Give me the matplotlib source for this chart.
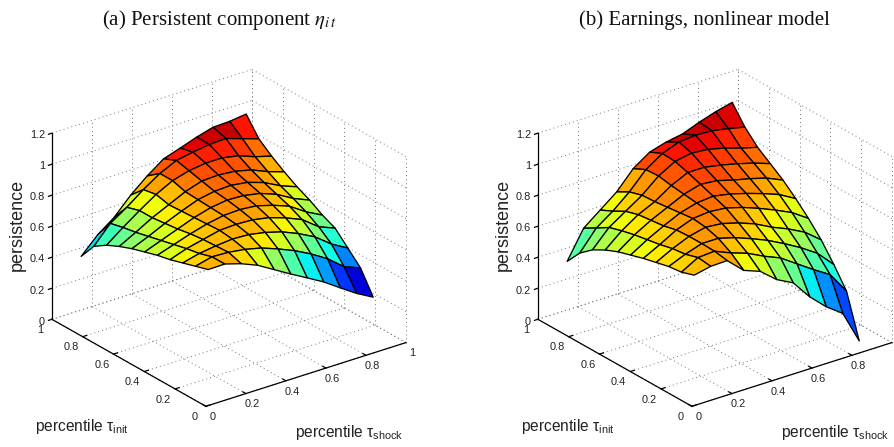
import numpy as np
import matplotlib
matplotlib.use("Agg")
import matplotlib.pyplot as plt
from mpl_toolkits.mplot3d import proj3d

plt.rcParams['font.family'] = ['Liberation Sans', 'DejaVu Sans']
plt.rcParams['mathtext.fontset'] = 'custom'
plt.rcParams['mathtext.rm'] = 'Liberation Sans'
plt.rcParams['mathtext.it'] = 'Liberation Sans'

W, H = 894, 447

tau_shock = [0.05, 0.1325, 0.215, 0.2975, 0.38, 0.4625, 0.545, 0.6275, 0.71, 0.7925, 0.875]
tau_init = [0.05, 0.1325, 0.215, 0.2975, 0.38, 0.4625, 0.545, 0.6275, 0.71, 0.7925, 0.875]

# rows: tau_init, columns: tau_shock
persistence_eta = [
    [.833, .835, .803, .759, .697, .635, .576, .516, .444, .374, .316],
    [.808, .835, .830, .815, .790, .750, .705, .650, .585, .500, .458],
    [.783, .810, .825, .835, .830, .810, .780, .735, .680, .600, .540],
    [.758, .795, .820, .845, .850, .845, .825, .790, .745, .665, .622],
    [.740, .775, .810, .840, .860, .865, .855, .825, .785, .715, .660],
    [.715, .755, .795, .835, .865, .880, .875, .855, .815, .755, .710],
    [.690, .735, .785, .830, .870, .890, .895, .880, .845, .790, .750],
    [.658, .715, .775, .825, .875, .910, .915, .905, .880, .835, .800],
    [.620, .700, .775, .845, .900, .930, .945, .945, .925, .885, .855],
    [.566, .680, .750, .830, .900, .950, .970, .985, .990, .955, .920],
    [.455, .560, .639, .748, .838, .915, .950, .987, 1.017, 1.021, 1.034],
]

persistence_earn = [
    [.797, .820, .823, .726, .686, .599, .544, .420, .322, .246, .034],
    [.770, .830, .837, .792, .756, .703, .658, .586, .515, .449, .308],
    [.760, .805, .840, .840, .810, .770, .725, .670, .610, .540, .434],
    [.740, .795, .840, .865, .855, .825, .785, .730, .685, .630, .547],
    [.720, .775, .835, .875, .885, .875, .845, .805, .760, .710, .639],
    [.695, .760, .815, .865, .895, .905, .885, .855, .820, .780, .720],
    [.670, .745, .805, .855, .905, .935, .925, .895, .870, .840, .793],
    [.635, .725, .795, .845, .915, .965, .965, .945, .920, .890, .853],
    [.590, .700, .770, .840, .930, .990, 1.010, 1.000, .975, .940, .912],
    [.523, .650, .725, .815, .925, .995, 1.035, 1.045, 1.040, 1.020, .996],
    [.423, .603, .686, .769, .885, .958, .989, 1.008, 1.049, 1.083, 1.109],
]

xy_ticks = [0, 0.2, 0.4, 0.6, 0.8, 1]
z_ticks = [0, 0.2, 0.4, 0.6, 0.8, 1, 1.2]

titles = ['(a) Persistent component $\\eta_{i\\,t}$', '(b) Earnings, nonlinear model']
z_label = 'persistence'
init_label = 'percentile $\\tau_{\\mathrm{init}}$'
shock_label = 'percentile $\\tau_{\\mathrm{shock}}$'


def fmt(v):
    return f'{v:g}'


def label3d(ax, x, y, z, s, **kw):
    """Place a label at a 3D data point, skipping ones beyond the canvas."""
    px, py, _ = proj3d.proj_transform(x, y, z, ax.get_proj())
    if ax.transData.transform((px, py))[0] < W - 4:
        ax.text2D(px, py, s, transform=ax.transData, clip_on=False, **kw)


def panel(fig, left_px, values, title, title_cx):
    side = 401
    ax = fig.add_axes([(left_px + 23) / W, 3.2 / H, side / W, side / H],
                      projection='3d', proj_type='ortho', computed_zorder=False)
    ax.patch.set_alpha(0)
    ax.view_init(elev=25.1, azim=-126.9)
    ax.set_box_aspect((756, 775, 621))
    ax.set_xlim(0, 1)
    ax.set_ylim(0, 1)
    ax.set_zlim(0, 1.2)
    ax.set_axis_off()
    ax.apply_aspect()

    gk = dict(color='#777777', lw=0.7, ls=(0, (1, 3.2)), zorder=1)
    for t in xy_ticks:
        ax.plot([t, t], [0, 1], [0, 0], **gk)
        ax.plot([0, 1], [t, t], [0, 0], **gk)
        ax.plot([t, t], [1, 1], [0, 1.2], **gk)
        ax.plot([1, 1], [t, t], [0, 1.2], **gk)
    for z in z_ticks:
        ax.plot([0, 1], [1, 1], [z, z], **gk)
        ax.plot([1, 1], [0, 1], [z, z], **gk)

    ak = dict(color='black', lw=0.9, zorder=2)
    ax.plot([0, 1], [0, 0], [0, 0], **ak)
    ax.plot([0, 0], [0, 1], [0, 0], **ak)
    ax.plot([0, 0], [1, 1], [0, 1.2], **ak)
    for t in xy_ticks[:-1]:
        ax.plot([t, t], [0, 0.02], [0, 0], **ak)
    for t in xy_ticks[:-1]:
        ax.plot([0, 0.02], [t, t], [0, 0], **ak)
    for z in z_ticks:
        ax.plot([-0.017, 0], [1, 1], [z, z], **ak)

    tk = dict(fontsize=7.9, color='#222222', ha='center', va='center', zorder=5)
    for t in xy_ticks:
        label3d(ax, t, -0.043, -0.045, fmt(t), **tk)
        label3d(ax, -0.058, t, -0.045, fmt(t), **tk)
    for z in z_ticks:
        label3d(ax, -0.035, 1, z, fmt(z), fontsize=7.9, color='#222222',
                ha='right', va='center', zorder=5)

    Z = np.array(values)
    X, Y = np.meshgrid(tau_shock, tau_init)
    norm = plt.Normalize(Z.min(), Z.max())
    ax.plot_surface(X, Y, Z, rstride=1, cstride=1, facecolors=plt.cm.jet(norm(Z)),
                    edgecolor='black', linewidth=0.95, shade=False,
                    antialiased=True, zorder=3)

    fig.text(title_cx / W, 1 - 20 / H, title, family='Liberation Serif', fontsize=15,
             ha='center', va='center', math_fontfamily='stix', color='#111111')
    fig.text((left_px + 17.5) / W, 1 - 225 / H, z_label, fontsize=13, rotation=90,
             ha='center', va='center', color='#222222')
    fig.text((left_px + 35) / W, 1 - 426.5 / H, init_label, fontsize=11.2,
             ha='left', va='center', color='#222222')
    fig.text((left_px + 295) / W, 1 - 433 / H, shock_label, fontsize=11.2,
             ha='left', va='center', color='#222222')


fig = plt.figure(figsize=(W / 100, H / 100), dpi=100)
panel(fig, 0, persistence_eta, titles[0], 219)
panel(fig, 486, persistence_earn, titles[1], 704.5)
fig.savefig('out.png', dpi=100)
